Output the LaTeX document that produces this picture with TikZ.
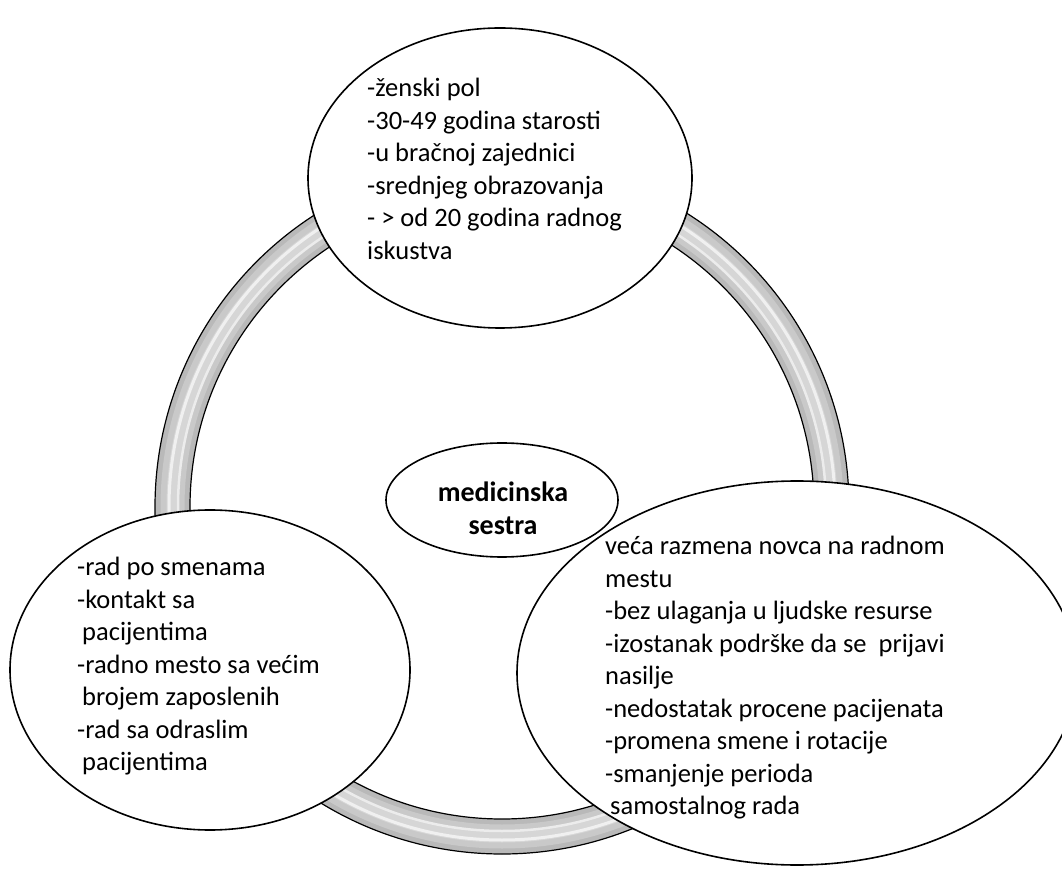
\documentclass[tikz,border=0pt]{standalone}
\usepackage{fontspec}
\setmainfont{Carlito}
\usetikzlibrary{shapes.geometric}
\begin{document}
\begin{tikzpicture}[x=1pt,y=1pt,
  bub/.style={ellipse, draw=black, line width=1.6pt, fill=white, inner sep=0pt, outer sep=0pt},
  txt/.style={font=\fontsize{26.5}{32.5}\selectfont, align=left, inner sep=0pt, anchor=north west},
  ringline/.style={draw=black, line width=1.2pt}]
\useasboundingbox (0,0) rectangle (1062,868);
\clip (0,0) rectangle (1062,868);
\fill[white] (0,0) rectangle (1062,868);
\coordinate (rc) at (502,361);
% ring
\draw[line width=35pt, gray!55] (rc) circle[radius=329.5pt];
\draw[line width=24pt, gray!42] (rc) circle[radius=329.5pt];
\draw[line width=12pt, gray!32] (rc) circle[radius=329.5pt];
\draw[line width=3pt, gray!12] (rc) circle[radius=333pt];
\draw[line width=2.5pt, gray!15] (rc) circle[radius=324pt];
\draw[ringline] (rc) circle[radius=347pt];
\draw[ringline] (rc) circle[radius=312pt];
% bubbles
\node[bub, minimum width=384pt, minimum height=300pt] (top) at (500,690) {};
\node[bub, minimum width=400pt, minimum height=320pt] (bl) at (210,198) {};
\node[bub, minimum width=232pt, minimum height=114pt] (mid) at (502,368) {};
\node[bub, minimum width=560pt, minimum height=384pt] (br) at (797,195) {};
% texts
\node[txt] (ttop) at (367,790) {-ženski pol\\-30-49 godina starosti\\-u bračnoj zajednici\\-srednjeg obrazovanja\\- > od 20 godina radnog\\iskustva};
\node[txt] (tbl) at (77,311) {-rad po smenama\\-kontakt sa\\\hspace*{5pt}pacijentima\\-radno mesto sa većim\\\hspace*{5pt}brojem zaposlenih\\-rad sa odraslim\\\hspace*{5pt}pacijentima};
\node[txt] (tbr) at (605,332) {veća razmena novca na radnom\\mestu\\-bez ulaganja u ljudske resurse\\-izostanak podrške da se~ prijavi\\nasilje\\-nedostatak procene pacijenata\\-promena smene i rotacije\\-smanjenje perioda\\\hspace*{5pt}samostalnog rada};
\node[font=\bfseries\fontsize{28}{33}\selectfont, align=center, inner sep=0pt] (tmid) at (503,360) {medicinska\\sestra};
\end{tikzpicture}
\end{document}
